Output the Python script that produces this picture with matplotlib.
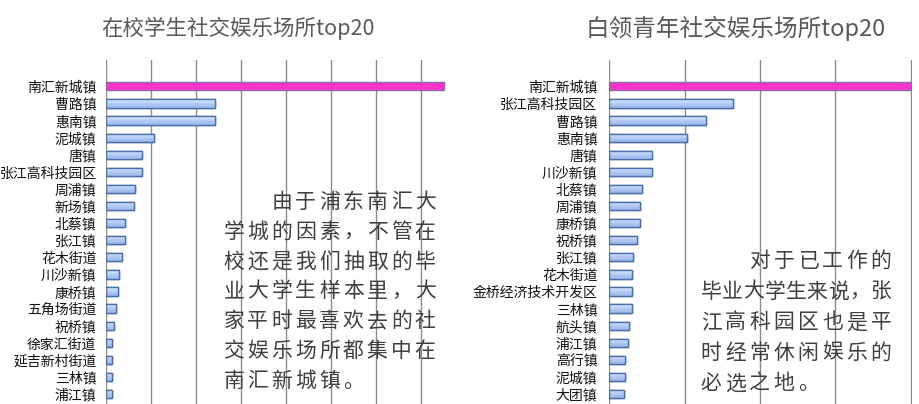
import matplotlib.pyplot as plt
import numpy as np
from matplotlib.colors import LinearSegmentedColormap

plt.rcParams['font.family'] = ['Noto Sans CJK SC', 'DejaVu Sans']

# 在校学生
left_title = '在校学生社交娱乐场所top20'
left_labels = ['南汇新城镇', '曹路镇', '惠南镇', '泥城镇', '唐镇', '张江高科技园区', '周浦镇',
               '新场镇', '北蔡镇', '张江镇', '花木街道', '川沙新镇', '康桥镇', '五角场街道',
               '祝桥镇', '徐家汇街道', '延吉新村街道', '三林镇', '浦江镇']
left_values = [150, 48.6, 48.3, 21.2, 15.9, 15.9, 12.9, 12.3, 8.3, 8.3, 7.0, 5.8, 5.3,
               4.3, 3.4, 2.7, 2.7, 2.5, 2.5]
left_note = ['　　由于浦东南汇大', '学城的因素，不管在', '校还是我们抽取的毕', '业大学生样本里，大',
             '家平时最喜欢去的社', '交娱乐场所都集中在', '南汇新城镇。']

# 白领青年
right_title = '白领青年社交娱乐场所top20'
right_labels = ['南汇新城镇', '张江高科技园区', '曹路镇', '惠南镇', '唐镇', '川沙新镇', '北蔡镇',
                '周浦镇', '康桥镇', '祝桥镇', '张江镇', '花木街道', '金桥经济技术开发区', '三林镇',
                '航头镇', '浦江镇', '高行镇', '泥城镇', '大团镇']
right_values = [80, 32.8, 25.6, 20.7, 11.5, 11.3, 8.8, 8.2, 8.2, 7.3, 6.4, 6.2, 6.2, 6.1,
                5.3, 4.9, 4.2, 4.2, 4.0]
right_note = ['　　对于已工作的', '毕业大学生来说，张', '江高科园区也是平', '时经常休闲娱乐的', '必选之地。']

W, H = 919, 404
fig = plt.figure(figsize=(W / 100, H / 100), dpi=100)

blue_cmap = LinearSegmentedColormap.from_list('b', ['#e3ecfc', '#b4ccf3', '#9ab8ec'])
grad = np.linspace(0, 1, 32).reshape(-1, 1)


def draw_panel(left_px, right_px, xmin, xmax, labels, values, pad):
    ax = fig.add_axes([left_px / W, 0, (right_px - left_px) / W, 1 - 60 / H])
    y = np.arange(len(labels))
    bars = ax.barh(y, values, height=0.48, color='#b9cff5', edgecolor='#4a6ea8',
                   linewidth=1.0, zorder=2)
    for i, b in enumerate(bars):
        x0, y0 = b.get_x(), b.get_y()
        w, h = b.get_width(), b.get_height()
        if i == 0:
            b.set_facecolor('#ff33cc')
            b.set_edgecolor('#8a6aa8')
            continue
        im = ax.imshow(grad, cmap=blue_cmap, aspect='auto', zorder=2.5,
                       extent=(x0, x0 + w, y0 + h, y0))
        im.set_clip_path(b)
        # edge on top of gradient
        ax.barh(y[i], w, height=0.48, left=x0, facecolor='none', edgecolor='#4a6ea8',
                linewidth=1.0, zorder=3)
    ax.set_xlim(xmin, xmax)
    ax.set_ylim(18.58, -1.54)
    ax.set_xticks(np.arange(0, xmax, 20))
    ax.grid(axis='x', color='#8c8c8c', linewidth=1.0, zorder=0)
    ax.set_axisbelow(True)
    for s in ax.spines.values():
        s.set_visible(False)
    ax.set_yticks(y)
    ax.set_yticklabels(labels, fontsize=10, color='#111111')
    ax.tick_params(length=0, labelbottom=False, pad=pad)
    ax.patch.set_alpha(0)
    return ax


draw_panel(105.5, 455, -0.2, 155, left_labels, left_values, 6.5)
draw_panel(608.5, 912, -0.15, 80.3, right_labels, right_values, 8)

fig.text(238 / W, 1 - 28 / H, left_title, fontsize=15.5, color='#595959', ha='center', va='center')
fig.text(736 / W, 1 - 28 / H, right_title, fontsize=17, color='#595959', ha='center', va='center')


def draw_note(lines, x0, x1, cells, y0, dy):
    pitch = (x1 - x0) / cells
    for k, line in enumerate(lines):
        n = len(line)
        last = k == len(lines) - 1
        step = pitch if (last or n == 1) else (x1 - x0 - pitch) / (n - 1)
        yy = y0 + k * dy
        for i, ch in enumerate(line):
            if ch == '　':
                continue
            xx = x0 + pitch / 2 + i * step
            fig.text(xx / W, 1 - yy / H, ch, fontsize=15, color='#3f3f3f',
                     fontweight='light', ha='center', va='center', zorder=5)


draw_note(left_note, 222, 437, 9, 202, 29.8)
draw_note(right_note, 699, 893, 8, 261, 30.6)

fig.savefig('out.png', dpi=100)
